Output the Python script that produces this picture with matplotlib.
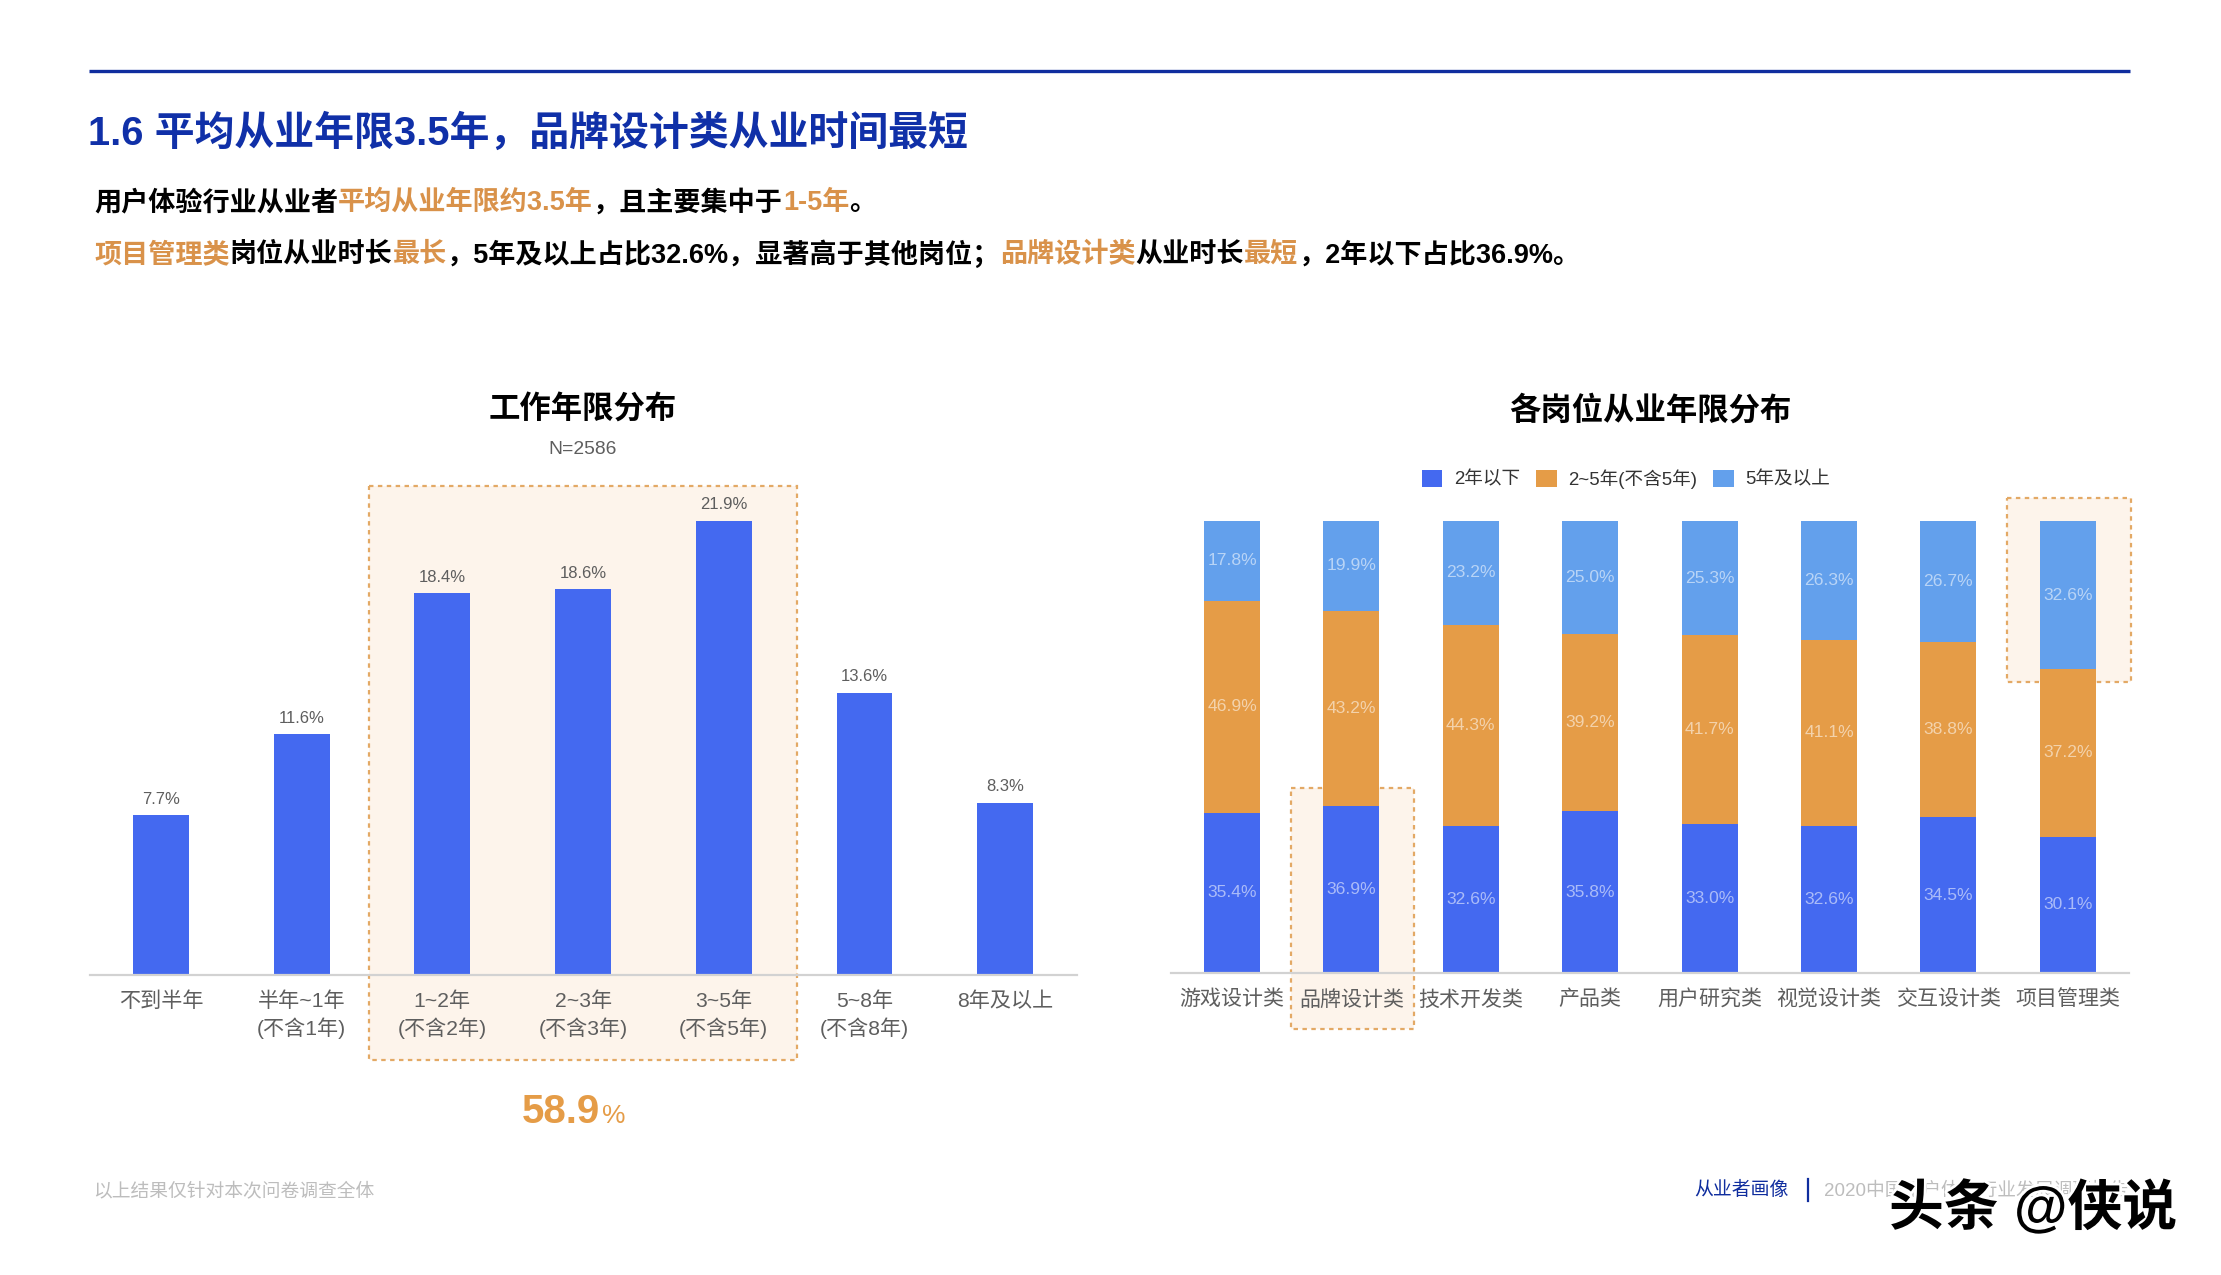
import matplotlib
matplotlib.use('Agg')
import matplotlib.pyplot as plt
import matplotlib.patheffects as pe
from matplotlib.patches import Rectangle

plt.rcParams['font.family'] = ['Liberation Sans', 'Noto Sans CJK SC']

# left chart
year_labels = ['不到半年', '半年~1年\n(不含1年)', '1~2年\n(不含2年)', '2~3年\n(不含3年)',
               '3~5年\n(不含5年)', '5~8年\n(不含8年)', '8年及以上']
year_values = [7.7, 11.6, 18.4, 18.6, 21.9, 13.6, 8.3]

# right chart
job_labels = ['游戏设计类', '品牌设计类', '技术开发类', '产品类', '用户研究类', '视觉设计类', '交互设计类', '项目管理类']
under_2 = [35.4, 36.9, 32.6, 35.8, 33.0, 32.6, 34.5, 30.1]
from_2_to_5 = [46.9, 43.2, 44.3, 39.2, 41.7, 41.1, 38.8, 37.2]
over_5 = [17.8, 19.9, 23.2, 25.0, 25.3, 26.3, 26.7, 32.6]
series_names = ['2年以下', '2~5年(不含5年)', '5年及以上']

BLUE = '#4469F0'
ORANGE = '#E59C47'
LIGHT = '#63A0EC'
NAVY = '#0F2D9E'
HILITE = '#FDF4EB'
W, H = 2221, 1275

fig = plt.figure(figsize=(W / 100, H / 100), dpi=100, facecolor='white')

# overlay in pixel coords for the page furniture
page = fig.add_axes([0, 0, 1, 1], zorder=0)
page.set_xlim(0, W)
page.set_ylim(H, 0)
page.axis('off')


def chart_axes(x0, x1, y_top, y_base):
    ax = fig.add_axes([x0 / W, 1 - y_base / H, (x1 - x0) / W, (y_base - y_top) / H], zorder=1)
    ax.patch.set_alpha(0)
    for s in ['top', 'left', 'right']:
        ax.spines[s].set_visible(False)
    ax.spines['bottom'].set_color('#D2D2D2')
    ax.spines['bottom'].set_linewidth(1.6)
    ax.set_yticks([])
    return ax


def highlight(x0, y0, x1, y1):
    page.add_patch(Rectangle((x0, y0), x1 - x0, y1 - y0, facecolor=HILITE, edgecolor='#E3A965',
                             linewidth=1.6, linestyle=(0, (2, 2))))


def rich_line(x, y, parts, size):
    renderer = fig.canvas.get_renderer()
    for txt, col in parts:
        t = page.text(x, y, txt, color=col, fontsize=size, fontweight='bold', va='center', ha='left')
        x = t.get_window_extent(renderer).x1


# header
page.plot([89, 2130], [71, 71], color=NAVY, linewidth=2.4, solid_capstyle='butt')
page.text(88, 133, '1.6 平均从业年限3.5年，品牌设计类从业时间最短', color='#1030A8', fontsize=28.75,
          fontweight='bold', va='center', ha='left')
rich_line(94, 203, [('用户体验行业从业者', 'black'), ('平均从业年限约3.5年', '#D9924A'),
                    ('，且主要集中于', 'black'), ('1-5年', '#D9924A'), ('。', 'black')], 19.5)
rich_line(94, 255, [('项目管理类', '#D9924A'), ('岗位从业时长', 'black'), ('最长', '#D9924A'),
                    ('，5年及以上占比32.6%，显著高于其他岗位；', 'black'), ('品牌设计类', '#D9924A'),
                    ('从业时长', 'black'), ('最短', '#D9924A'), ('，2年以下占比36.9%。', 'black')], 19.5)

# highlights sit behind the bars
highlight(369, 486, 797, 1060)
highlight(1291, 788, 1414, 1029)
highlight(2007, 498, 2131, 682)

# left chart
ax1 = chart_axes(89.5, 1077, 500, 975)
pos1 = list(range(len(year_values)))
ax1.bar(pos1, year_values, width=0.398, color=BLUE)
ax1.set_xlim((89.5 - 161) / 140.7, (1077 - 161) / 140.7)
ax1.set_ylim(0, (975 - 500) / 20.75)
ax1.set_xticks(pos1)
ax1.set_xticklabels(year_labels, fontsize=15.2, color='#5E5E5E', linespacing=1.33, va='top')
ax1.tick_params(axis='x', length=0, pad=12)
for i, v in enumerate(year_values):
    ax1.annotate(f'{v}%', (i, v), xytext=(0, 11.5), textcoords='offset points', ha='center', va='center',
                 fontsize=12, color='#5E5E5E')

page.text(583, 411, '工作年限分布', fontsize=22.6, fontweight='bold', color='black', ha='center', va='center')
page.text(583, 450, 'N=2586', fontsize=13.9, color='#5E5E5E', ha='center', va='center')
t = page.text(522, 1112, '58.9', fontsize=29, fontweight='bold', color=ORANGE, ha='left', va='center')
page.text(t.get_window_extent(fig.canvas.get_renderer()).x1 + 2, 1116, '%', fontsize=19, color=ORANGE,
          ha='left', va='center')

# right chart
ax2 = chart_axes(1171, 2129, 500, 973)
pos2 = list(range(len(job_labels)))
bottoms = [0] * len(job_labels)
for name, vals, col in zip(series_names, [under_2, from_2_to_5, over_5], [BLUE, ORANGE, LIGHT]):
    ax2.bar(pos2, vals, width=0.469, bottom=bottoms, color=col, label=name)
    for i, v in enumerate(vals):
        ax2.text(i, bottoms[i] + v / 2, f'{v:.1f}%', ha='center', va='center', fontsize=12.6,
                 color='white', alpha=0.55)
    bottoms = [b + v for b, v in zip(bottoms, vals)]
ax2.set_xlim((1171 - 1232) / 119.4, (2129 - 1232) / 119.4)
ax2.set_ylim(0, (973 - 500) / 4.52)
ax2.set_xticks(pos2)
ax2.set_xticklabels(job_labels, fontsize=15.1, color='#5E5E5E')
ax2.tick_params(axis='x', length=0, pad=12)
ax2.legend(loc='center', bbox_to_anchor=(1626 / W, 1 - 479 / H), bbox_transform=fig.transFigure, ncol=3,
           frameon=False, fontsize=13.4, handlelength=1.1, handleheight=1.1, handletextpad=0.62,
           columnspacing=0.86, labelcolor='#333333', borderpad=0)

page.text(1650, 411, '各岗位从业年限分布', fontsize=22.6, fontweight='bold', color='black', ha='center', va='center')

# footer
page.text(93, 1191, '以上结果仅针对本次问卷调查全体', fontsize=13.5, color='#BDBDBD', ha='left', va='center')
page.text(1694, 1190, '从业者画像', fontsize=13.6, color=NAVY, ha='left', va='center')
page.plot([1808, 1808], [1179, 1201], color=NAVY, linewidth=1.6)
page.text(1824, 1190, '2020中国用户体验行业发展调研报告', fontsize=13.5, color='#BDBDBD', ha='left', va='center')
page.text(1889, 1209, '头条 @侠说', fontsize=39.5, fontweight='bold', color='black', ha='left', va='center',
          path_effects=[pe.withStroke(linewidth=4, foreground='white')], zorder=5)

fig.savefig('out.png', dpi=100)
plt.close()
